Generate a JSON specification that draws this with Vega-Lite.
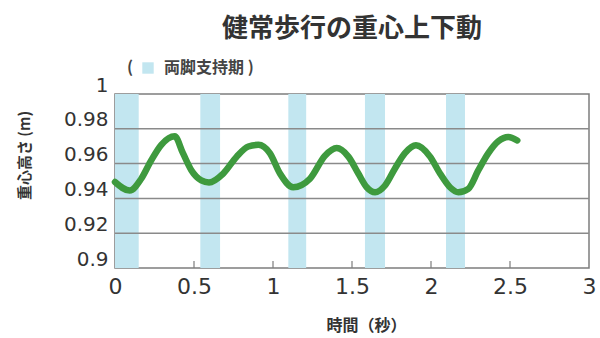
{
  "$schema": "https://vega.github.io/schema/vega-lite/v6.json",
  "autosize": "none",
  "width": 474,
  "height": 174,
  "padding": {"left": 115, "top": 94, "right": 11, "bottom": 70},
  "background": "white",
  "title": {
    "text": "健常歩行の重心上下動",
    "font": "Noto Sans CJK JP",
    "fontSize": 26,
    "fontWeight": "bold",
    "color": "#333333",
    "anchor": "middle",
    "offset": 18
  },
  "config": {
    "view": {"stroke": "#7d7d7d", "strokeWidth": 1.5},
    "axis": {"labelColor": "#333333", "titleColor": "#333333", "domain": false, "grid": false}
  },
  "datasets": {
    "curve": [
      {"t": 0.0, "h": 0.9494},
      {"t": 0.093, "h": 0.9445},
      {"t": 0.166, "h": 0.9513},
      {"t": 0.23, "h": 0.962},
      {"t": 0.293, "h": 0.9708},
      {"t": 0.378, "h": 0.9757},
      {"t": 0.43, "h": 0.966},
      {"t": 0.483, "h": 0.9562},
      {"t": 0.546, "h": 0.9504},
      {"t": 0.595, "h": 0.9492},
      {"t": 0.685, "h": 0.9543},
      {"t": 0.77, "h": 0.964},
      {"t": 0.844, "h": 0.9698},
      {"t": 0.908, "h": 0.9708},
      {"t": 0.98, "h": 0.966},
      {"t": 1.044, "h": 0.9543},
      {"t": 1.128, "h": 0.9464},
      {"t": 1.234, "h": 0.9513},
      {"t": 1.329, "h": 0.9645},
      {"t": 1.403, "h": 0.9689},
      {"t": 1.477, "h": 0.964},
      {"t": 1.54, "h": 0.9543},
      {"t": 1.593, "h": 0.9464},
      {"t": 1.646, "h": 0.9435},
      {"t": 1.709, "h": 0.9474},
      {"t": 1.772, "h": 0.9572},
      {"t": 1.835, "h": 0.966},
      {"t": 1.905, "h": 0.9705},
      {"t": 1.994, "h": 0.964},
      {"t": 2.057, "h": 0.9543},
      {"t": 2.12, "h": 0.9464},
      {"t": 2.173, "h": 0.9435},
      {"t": 2.236, "h": 0.9455},
      {"t": 2.3, "h": 0.9562},
      {"t": 2.363, "h": 0.966},
      {"t": 2.426, "h": 0.9728},
      {"t": 2.489, "h": 0.9753},
      {"t": 2.546, "h": 0.9733}
    ],
    "bands": [
      {"t": 0.0, "t2": 0.15, "phase": "両脚支持期"},
      {"t": 0.54, "t2": 0.665, "phase": "両脚支持期"},
      {"t": 1.097, "t2": 1.21, "phase": "両脚支持期"},
      {"t": 1.582, "t2": 1.709, "phase": "両脚支持期"},
      {"t": 2.095, "t2": 2.215, "phase": "両脚支持期"}
    ],
    "grid": [
      {"h": 0.92},
      {"h": 0.94},
      {"h": 0.96},
      {"h": 0.98}
    ],
    "xticks": [
      {"t": 0.5},
      {"t": 1},
      {"t": 1.5},
      {"t": 2},
      {"t": 2.5}
    ]
  },
  "layer": [
    {
      "data": {"name": "bands"},
      "mark": {"type": "rect", "strokeWidth": 0},
      "encoding": {
        "x": {"field": "t", "type": "quantitative", "title": "時間（秒）", "scale": {"domain": [0, 3], "nice": false, "zero": false},
          "axis": {"title": "時間（秒）", "values": [0, 0.5, 1, 1.5, 2, 2.5, 3], "labelExpr": "format(datum.value, '~g')",
            "titleFont": "Noto Sans CJK JP", "titleFontSize": 16, "titleFontWeight": "bold", "titleX": 251, "titleY": 57, "titleBaseline": "middle", "titleAlign": "center",
            "labelFont": "DejaVu Sans", "labelFontSize": 22, "labelFlush": false, "labelBound": false, "labelOverlap": false,
            "ticks": false, "labelPadding": 8}},
        "x2": {"field": "t2"},
        "color": {
          "field": "phase",
          "type": "nominal",
          "scale": {"range": ["#c2e6f0"]},
          "legend": {
            "orient": "none",
            "legendX": 12,
            "legendY": -34,
            "direction": "horizontal",
            "title": "(",
            "titleOrient": "left",
            "titleFont": "Noto Sans CJK JP",
            "titleFontSize": 16,
            "titleFontWeight": "bold",
            "titleColor": "#444444",
            "titlePadding": 6,
            "symbolType": "square",
            "symbolSize": 130,
            "symbolStrokeWidth": 0,
            "labelFont": "Noto Sans CJK JP",
            "labelFontSize": 16,
            "labelFontWeight": "bold",
            "labelColor": "#444444",
            "labelOffset": 8,
            "labelExpr": "datum.label + ' )'"
          }
        }
      }
    },
    {
      "data": {"name": "grid"},
      "mark": {"type": "rule", "color": "#8a8a8a", "strokeWidth": 1.5},
      "encoding": {
        "y": {"field": "h", "type": "quantitative", "title": "重心高さ (m)", "scale": {"domain": [0.9, 1], "nice": false, "zero": false},
          "axis": {"title": "重心高さ (m)", "values": [0.9, 0.92, 0.94, 0.96, 0.98, 1], "labelExpr": "format(datum.value, '~g')",
            "titleFont": "Noto Sans CJK JP", "titleFontSize": 15, "titleFontWeight": "bold", "titleX": -91, "titleY": 61, "titleAlign": "center", "titleBaseline": "middle", "titleAngle": 270,
            "labelFont": "DejaVu Sans", "labelFontSize": 20, "labelPadding": 7, "labelOffset": -9, "ticks": false, "labelFlush": false, "labelBound": false, "labelOverlap": false}}
      }
    },
    {
      "data": {"name": "xticks"},
      "mark": {"type": "rule", "color": "#7d7d7d", "strokeWidth": 1.2},
      "encoding": {
        "x": {"field": "t", "type": "quantitative", "title": "時間（秒）", "scale": {"domain": [0, 3], "nice": false, "zero": false},
          "axis": {"title": "時間（秒）", "values": [0, 0.5, 1, 1.5, 2, 2.5, 3], "labelExpr": "format(datum.value, '~g')",
            "titleFont": "Noto Sans CJK JP", "titleFontSize": 16, "titleFontWeight": "bold", "titleX": 251, "titleY": 57, "titleBaseline": "middle", "titleAlign": "center",
            "labelFont": "DejaVu Sans", "labelFontSize": 22, "labelFlush": false, "labelBound": false, "labelOverlap": false,
            "ticks": false, "labelPadding": 8}},
        "y": {"datum": 0.9, "type": "quantitative", "title": "重心高さ (m)", "scale": {"domain": [0.9, 1], "nice": false, "zero": false},
          "axis": {"title": "重心高さ (m)", "values": [0.9, 0.92, 0.94, 0.96, 0.98, 1], "labelExpr": "format(datum.value, '~g')",
            "titleFont": "Noto Sans CJK JP", "titleFontSize": 15, "titleFontWeight": "bold", "titleX": -91, "titleY": 61, "titleAlign": "center", "titleBaseline": "middle", "titleAngle": 270,
            "labelFont": "DejaVu Sans", "labelFontSize": 20, "labelPadding": 7, "labelOffset": -9, "ticks": false, "labelFlush": false, "labelBound": false, "labelOverlap": false}},
        "y2": {"datum": 0.904}
      }
    },
    {
      "data": {"name": "curve"},
      "mark": {"type": "line", "interpolate": "monotone", "color": "#3e9a3e", "strokeWidth": 6.5, "strokeCap": "round", "strokeJoin": "round"},
      "encoding": {
        "x": {"field": "t", "type": "quantitative", "title": "時間（秒）", "scale": {"domain": [0, 3], "nice": false, "zero": false},
          "axis": {"title": "時間（秒）", "values": [0, 0.5, 1, 1.5, 2, 2.5, 3], "labelExpr": "format(datum.value, '~g')",
            "titleFont": "Noto Sans CJK JP", "titleFontSize": 16, "titleFontWeight": "bold", "titleX": 251, "titleY": 57, "titleBaseline": "middle", "titleAlign": "center",
            "labelFont": "DejaVu Sans", "labelFontSize": 22, "labelFlush": false, "labelBound": false, "labelOverlap": false,
            "ticks": false, "labelPadding": 8}},
        "y": {"field": "h", "type": "quantitative", "title": "重心高さ (m)", "scale": {"domain": [0.9, 1], "nice": false, "zero": false},
          "axis": {"title": "重心高さ (m)", "values": [0.9, 0.92, 0.94, 0.96, 0.98, 1], "labelExpr": "format(datum.value, '~g')",
            "titleFont": "Noto Sans CJK JP", "titleFontSize": 15, "titleFontWeight": "bold", "titleX": -91, "titleY": 61, "titleAlign": "center", "titleBaseline": "middle", "titleAngle": 270,
            "labelFont": "DejaVu Sans", "labelFontSize": 20, "labelPadding": 7, "labelOffset": -9, "ticks": false, "labelFlush": false, "labelBound": false, "labelOverlap": false}}
      }
    }
  ]
}
